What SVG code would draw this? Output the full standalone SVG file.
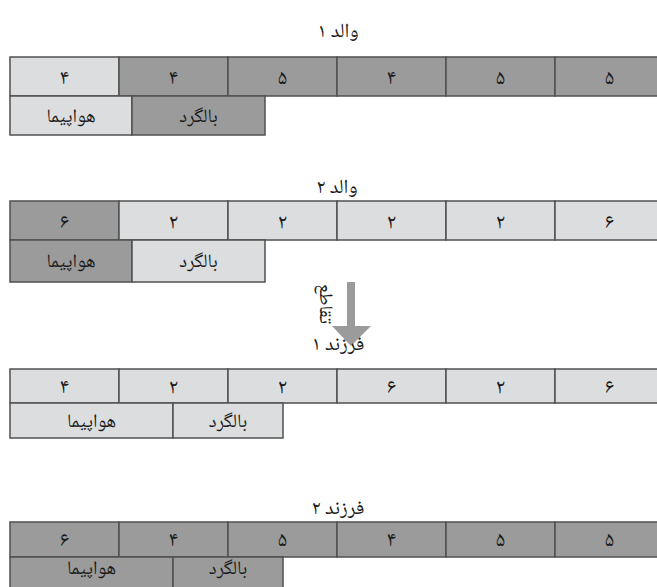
<svg xmlns="http://www.w3.org/2000/svg" width="657" height="587" viewBox="0 0 657 587">
<style>
.lt{fill:#dcdddf;stroke:#505050;stroke-width:1.5}
.dk{fill:#9b9b9b;stroke:#505050;stroke-width:1.5}
text{font-family:"Noto Naskh Arabic","DejaVu Sans",sans-serif;fill:#1a1a1a;text-anchor:middle;direction:rtl}
.d{font-size:21px}
.l{font-size:19px}
.t{font-size:20px}
</style>
<rect width="657" height="587" fill="#ffffff"/>

<g id="parent1">
  <text class="t" x="338" y="37">والد ۱</text>
  <g id="p1-genes">
    <rect class="lt" x="10" y="57" width="109" height="39"/><text class="d" x="64.5" y="84">۴</text>
    <rect class="dk" x="119" y="57" width="109" height="39"/><text class="d" x="173.5" y="84">۴</text>
    <rect class="dk" x="228" y="57" width="109" height="39"/><text class="d" x="282.5" y="84">۵</text>
    <rect class="dk" x="337" y="57" width="109" height="39"/><text class="d" x="391.5" y="84">۴</text>
    <rect class="dk" x="446" y="57" width="109" height="39"/><text class="d" x="500.5" y="84">۵</text>
    <rect class="dk" x="555" y="57" width="109" height="39"/><text class="d" x="609.5" y="84">۵</text>
  </g>
  <g id="p1-parts">
    <rect class="lt" x="10" y="96" width="122" height="39"/><text class="l" x="71" y="122">هواپیما</text>
    <rect class="dk" x="132" y="96" width="133" height="39"/><text class="l" x="198.5" y="122">بالگرد</text>
  </g>
</g>

<g id="parent2">
  <text class="t" x="337" y="193">والد ۲</text>
  <g id="p2-genes">
    <rect class="dk" x="10" y="201" width="109" height="39"/><text class="d" x="64.5" y="228">۶</text>
    <rect class="lt" x="119" y="201" width="109" height="39"/><text class="d" x="173.5" y="228">۲</text>
    <rect class="lt" x="228" y="201" width="109" height="39"/><text class="d" x="282.5" y="228">۲</text>
    <rect class="lt" x="337" y="201" width="109" height="39"/><text class="d" x="391.5" y="228">۲</text>
    <rect class="lt" x="446" y="201" width="109" height="39"/><text class="d" x="500.5" y="228">۲</text>
    <rect class="lt" x="555" y="201" width="109" height="39"/><text class="d" x="609.5" y="228">۶</text>
  </g>
  <g id="p2-parts">
    <rect class="dk" x="10" y="240" width="122" height="42"/><text class="l" x="71" y="267">هواپیما</text>
    <rect class="lt" x="132" y="240" width="133" height="42"/><text class="l" x="198.5" y="267">بالگرد</text>
  </g>
</g>

<g id="connectors">
  <g id="crossover-arrow">
    <rect x="347" y="282" width="8" height="44" fill="#9b9b9b"/>
    <polygon points="332,326 371,326 351,346" fill="#9b9b9b"/>
    <text class="l" transform="translate(326,304) rotate(90)" x="0" y="6">تقاطع</text>
  </g>
</g>

<g id="child1">
  <text class="t" x="338" y="350">فرزند ۱</text>
  <g id="c1-genes">
    <rect class="lt" x="10" y="369" width="109" height="34"/><text class="d" x="64.5" y="393">۴</text>
    <rect class="lt" x="119" y="369" width="109" height="34"/><text class="d" x="173.5" y="393">۲</text>
    <rect class="lt" x="228" y="369" width="109" height="34"/><text class="d" x="282.5" y="393">۲</text>
    <rect class="lt" x="337" y="369" width="109" height="34"/><text class="d" x="391.5" y="393">۶</text>
    <rect class="lt" x="446" y="369" width="109" height="34"/><text class="d" x="500.5" y="393">۲</text>
    <rect class="lt" x="555" y="369" width="109" height="34"/><text class="d" x="609.5" y="393">۶</text>
  </g>
  <g id="c1-parts">
    <rect class="lt" x="10" y="403" width="163" height="35"/><text class="l" x="91.5" y="427">هواپیما</text>
    <rect class="lt" x="173" y="403" width="110" height="35"/><text class="l" x="228" y="427">بالگرد</text>
  </g>
</g>

<g id="child2">
  <text class="t" x="338" y="514">فرزند ۲</text>
  <g id="c2-genes">
    <rect class="dk" x="10" y="522" width="109" height="35"/><text class="d" x="64.5" y="546">۶</text>
    <rect class="dk" x="119" y="522" width="109" height="35"/><text class="d" x="173.5" y="546">۴</text>
    <rect class="dk" x="228" y="522" width="109" height="35"/><text class="d" x="282.5" y="546">۵</text>
    <rect class="dk" x="337" y="522" width="109" height="35"/><text class="d" x="391.5" y="546">۴</text>
    <rect class="dk" x="446" y="522" width="109" height="35"/><text class="d" x="500.5" y="546">۵</text>
    <rect class="dk" x="555" y="522" width="109" height="35"/><text class="d" x="609.5" y="546">۵</text>
  </g>
  <g id="c2-parts">
    <rect class="dk" x="10" y="557" width="163" height="36"/><text class="l" x="91.5" y="574">هواپیما</text>
    <rect class="dk" x="173" y="557" width="110" height="36"/><text class="l" x="228" y="574">بالگرد</text>
  </g>
</g>
</svg>
